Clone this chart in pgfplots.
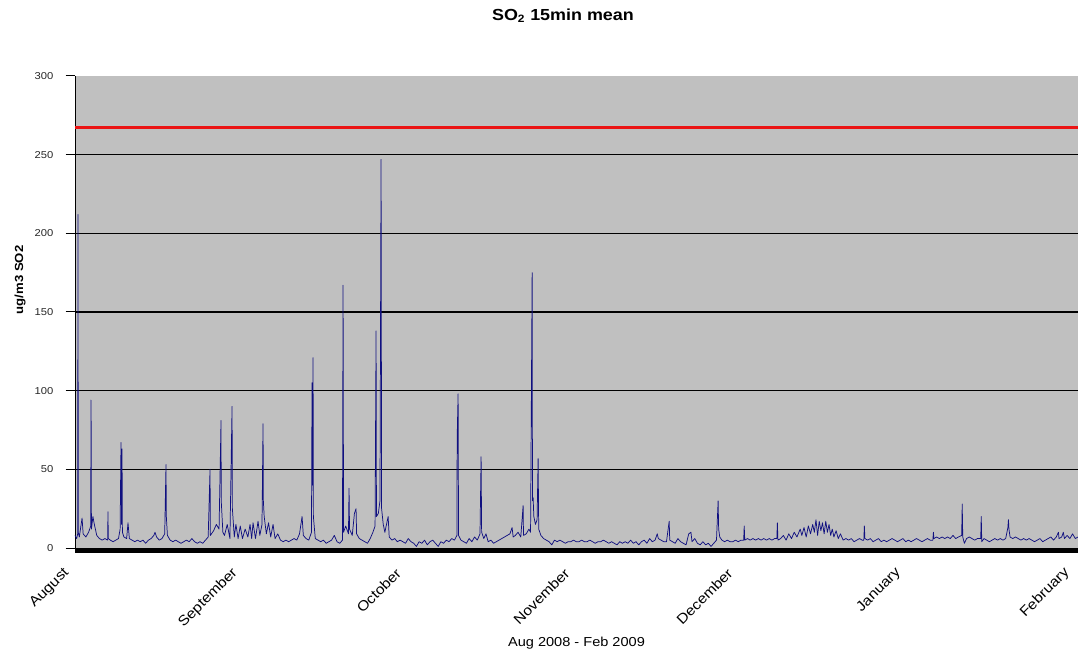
\documentclass[border=0pt]{standalone}
\usepackage{fontspec}
\setmainfont{Liberation Sans}[FakeStretch=1.12]
\usepackage{pgfplots}
\pgfplotsset{compat=1.18}
\definecolor{plotbg}{RGB}{192,192,192}
\definecolor{series}{RGB}{16,16,128}
\definecolor{limitred}{RGB}{235,20,20}
\begin{document}
\begin{tikzpicture}
\begin{axis}[
  at={(0,0)}, anchor=south west,
  scale only axis, width=752.25pt, height=354pt,
  xmin=0, xmax=184.5, ymin=0, ymax=300,
  clip=false,
  axis background/.style={fill=plotbg},
  axis x line*=bottom, axis y line*=left,
  x axis line style={line width=3.75pt, black, yshift=-1.9pt},
  y axis line style={line width=0.75pt, black},
  ytick={0,50,...,300},
  extra y ticks={50,100,...,250},
  extra y tick labels={},
  extra y tick style={ymajorgrids=true, major tick length=0pt, grid style={black, line width=0.9pt}},
  tick align=outside, major tick length=7pt,
  ytick style={black, line width=0.75pt},
  xtick={0,31,61,92,122,153,184},
  xticklabels={August,September,October,November,December,January,February},
  x tick style={draw=none},
  xticklabel style={xshift=-6pt, yshift=-10pt, rotate=45, anchor=east, inner sep=0pt, font=\fontsize{10.5}{12}\selectfont},
  yticklabel style={anchor=east, inner sep=0pt, xshift=-9pt, font=\fontsize{7.5}{9}\selectfont, text=black!85},
  /pgf/number format/assume math mode=true,
  title={SO\textsubscript{2} 15min mean},
  title style={at={(0.4865,1)}, anchor=center, yshift=39pt, font=\fontsize{12}{14}\selectfont\bfseries},
  xlabel={Aug 2008 - Feb 2009},
  xlabel style={at={(0.5,0)}, anchor=center, yshift=-71pt, font=\fontsize{9.75}{11}\selectfont},
  ylabel={ug/m3 SO2},
  ylabel style={at={(0,0.568)}, anchor=center, yshift=41.25pt, font=\fontsize{8.8}{10}\selectfont\bfseries},
]
\addplot[series, line width=0.55pt, line join=round] table {
x y
0 8
0.3 6
0.5 9
0.55 212
0.6 10
0.8 7
1.0 12
1.3 19
1.5 9
2.0 7
2.5 10
2.9 14
2.94 94
2.98 75
3.02 12
3.3 20
3.5 16
4.0 8
4.5 6
5.0 5
5.5 6
6.0 5
6.07 23
6.12 6
6.5 5
7.0 4
7.5 5
8.0 6
8.3 12
8.46 67
8.55 15
8.65 63
8.72 10
9.0 7
9.5 6
9.75 16
10.0 6
10.5 5
11.0 4
11.5 5
12.0 4
12.5 5
13.0 3
13.5 5
14.0 6
14.5 8
14.72 10
15.0 7
15.5 5
16.0 6
16.5 9
16.74 53
16.8 20
17.0 8
17.5 5
18 4
18.5 5
19 4
19.5 3
20 4
20.5 5
21 4
21.5 6
22 4
22.5 3
23 4
23.5 3
24 5
24.5 7
24.84 50
24.9 8
25.5 11
26 15
26.5 12
26.86 81
26.9 30
27.2 10
27.5 8
28 15
28.5 6
28.89 90
28.95 25
29.3 7
29.6 15
30 6
30.4 14
30.8 6
31.3 12
31.8 7
32.2 15
32.5 6
32.75 16
33.2 6
33.67 17
34.0 8
34.4 15
34.59 79
34.65 30
34.8 20
35.2 9
35.6 16
36.0 7
36.43 15
36.8 6
37.3 9
37.8 5
38.3 4
38.8 5
39.3 4
39.8 5
40.3 6
40.8 5
41.3 9
41.77 20
42.0 8
42.5 6
43.0 5
43.5 10
43.6 105
43.7 40
43.79 121
43.85 20
44.2 6
44.7 5
45.2 4
45.7 5
46.2 3
46.7 4
47.2 5
47.7 8
48.2 4
48.7 3
49.2 5
49.31 167
49.4 10
49.8 14
50.3 9
50.41 38
50.5 12
51.0 8
51.4 22
51.7 25
51.8 9
52.3 6
52.8 5
53.3 4
53.8 3
54.3 6
54.8 10
55.2 14
55.38 138
55.45 20
55.8 22
56.1 30
56.3 247
56.4 25
56.7 15
57.0 10
57.6 20
57.8 7
58.3 5
58.8 6
59.3 4
59.8 5
60.3 4
60.8 3
61.3 6
61.8 4
62.3 3
62.8 1
63.3 4
63.8 3
64.3 5
64.8 2
65.3 4
65.8 5
66.3 3
66.8 1
67.3 4
67.8 3
68.3 5
68.8 4
69.3 6
69.8 5
70.25 8
70.3 70
70.47 98
70.55 8
71.0 5
71.5 4
72.0 3
72.5 6
73.0 4
73.5 7
74.0 5
74.5 9
74.7 58
74.8 10
75.2 6
75.6 9
76.0 4
76.5 5
77.0 3
77.5 4
78.0 5
78.5 6
79.0 7
79.5 8
80.0 9
80.4 13
80.6 7
81.0 8
81.5 10
82.0 7
82.43 27
82.5 8
83.0 9
83.5 12
83.8 10
84.09 175
84.15 30
84.27 32
84.4 20
84.7 15
85.0 18
85.19 57
85.3 12
85.7 8
86.2 6
86.7 5
87.2 4
87.7 2
88.2 5
88.7 4
89.2 5
89.7 4
90.2 3
90.7 4
91.2 4
91.7 5
92.2 4
92.7 4
93.2 5
93.7 4
94.2 4
94.7 5
95.2 4
95.7 3
96.2 4
96.7 4
97.2 5
97.7 4
98.2 3
98.7 4
99.2 3
99.7 2
100.2 4
100.7 3
101.2 4
101.7 3
102.2 5
102.7 3
103.2 4
103.7 2
104.2 4
104.7 5
105.2 3
105.7 6
106.2 4
106.7 5
107.1 9
107.3 6
107.8 5
108.3 4
108.8 4
109.3 17
109.4 5
109.9 4
110.4 3
110.9 6
111.4 4
111.9 3
112.4 2
112.9 9
113.3 10
113.5 4
114.0 6
114.5 3
115.0 2
115.5 4
116.0 2
116.5 3
117.0 1
117.5 3
118.0 5
118.3 30
118.4 12
118.6 7
119.0 5
119.5 4
120.0 5
120.5 4
121 4
121.5 5
122 4
122.5 5
123.0 5
123.1 14
123.2 5
123.7 6
124.2 5
124.7 6
125.2 5
125.7 6
126.2 5
126.7 6
127.2 5
127.7 6
128.2 5
128.7 6
129.1 6
129.2 16
129.3 5
129.8 6
130.3 8
130.8 5
131.3 9
131.8 6
132.3 10
132.8 7
133.4 12
133.7 8
134.1 13
134.5 7
134.9 14
135.3 9
135.7 15
136.0 10
136.3 18
136.6 8
136.9 17
137.2 11
137.5 16
137.8 9
138.1 17
138.4 10
138.7 15
139.0 8
139.3 12
139.6 7
140.0 11
140.4 6
140.8 9
141.3 5
141.8 6
142.3 5
142.8 6
143.3 4
143.8 5
144.3 6
144.8 5
145.1 5
145.2 14
145.3 6
145.8 5
146.3 6
146.8 4
147.3 5
147.8 6
148.3 4
148.8 5
149.3 4
149.8 5
150.3 6
150.8 5
151.3 4
151.8 5
152.3 6
152.8 4
153.3 5
153.8 4
154.3 5
154.8 6
155.3 5
155.8 4
156.3 5
156.8 6
157.3 5
157.8 5
157.9 10
158.0 6
158.5 7
159.0 6
159.5 7
160.0 6
160.5 7
161.0 6
161.5 8
162.0 6
162.5 7
163.1 8
163.2 28
163.3 7
163.6 3
164.0 6
164.5 7
165.0 6
165.5 5
166.0 6
166.6 6
166.7 20
166.8 4
167.2 6
167.7 5
168.2 4
168.7 5
169.2 6
169.7 5
170.2 6
170.7 5
171.2 6
171.6 13
171.7 18
171.8 12
172.0 7
172.5 6
173.0 7
173.5 6
174.0 5
174.5 6
175.0 5
175.5 6
176.0 5
176.5 4
177.0 5
177.5 6
178.0 4
178.5 5
179.0 6
179.5 7
180.0 5
180.5 7
180.9 10
181.0 6
181.5 7
181.8 10
182.0 6
182.5 8
183.0 6
183.5 9
184.0 6
184.5 7
};
\addplot[limitred, line width=2.2pt] coordinates {(0,267) (184.5,267)};
\end{axis}
\pgfresetboundingbox
\path[use as bounding box] (-56.25pt,-78.75pt) rectangle (752.25pt,411pt);
\end{tikzpicture}
\end{document}
